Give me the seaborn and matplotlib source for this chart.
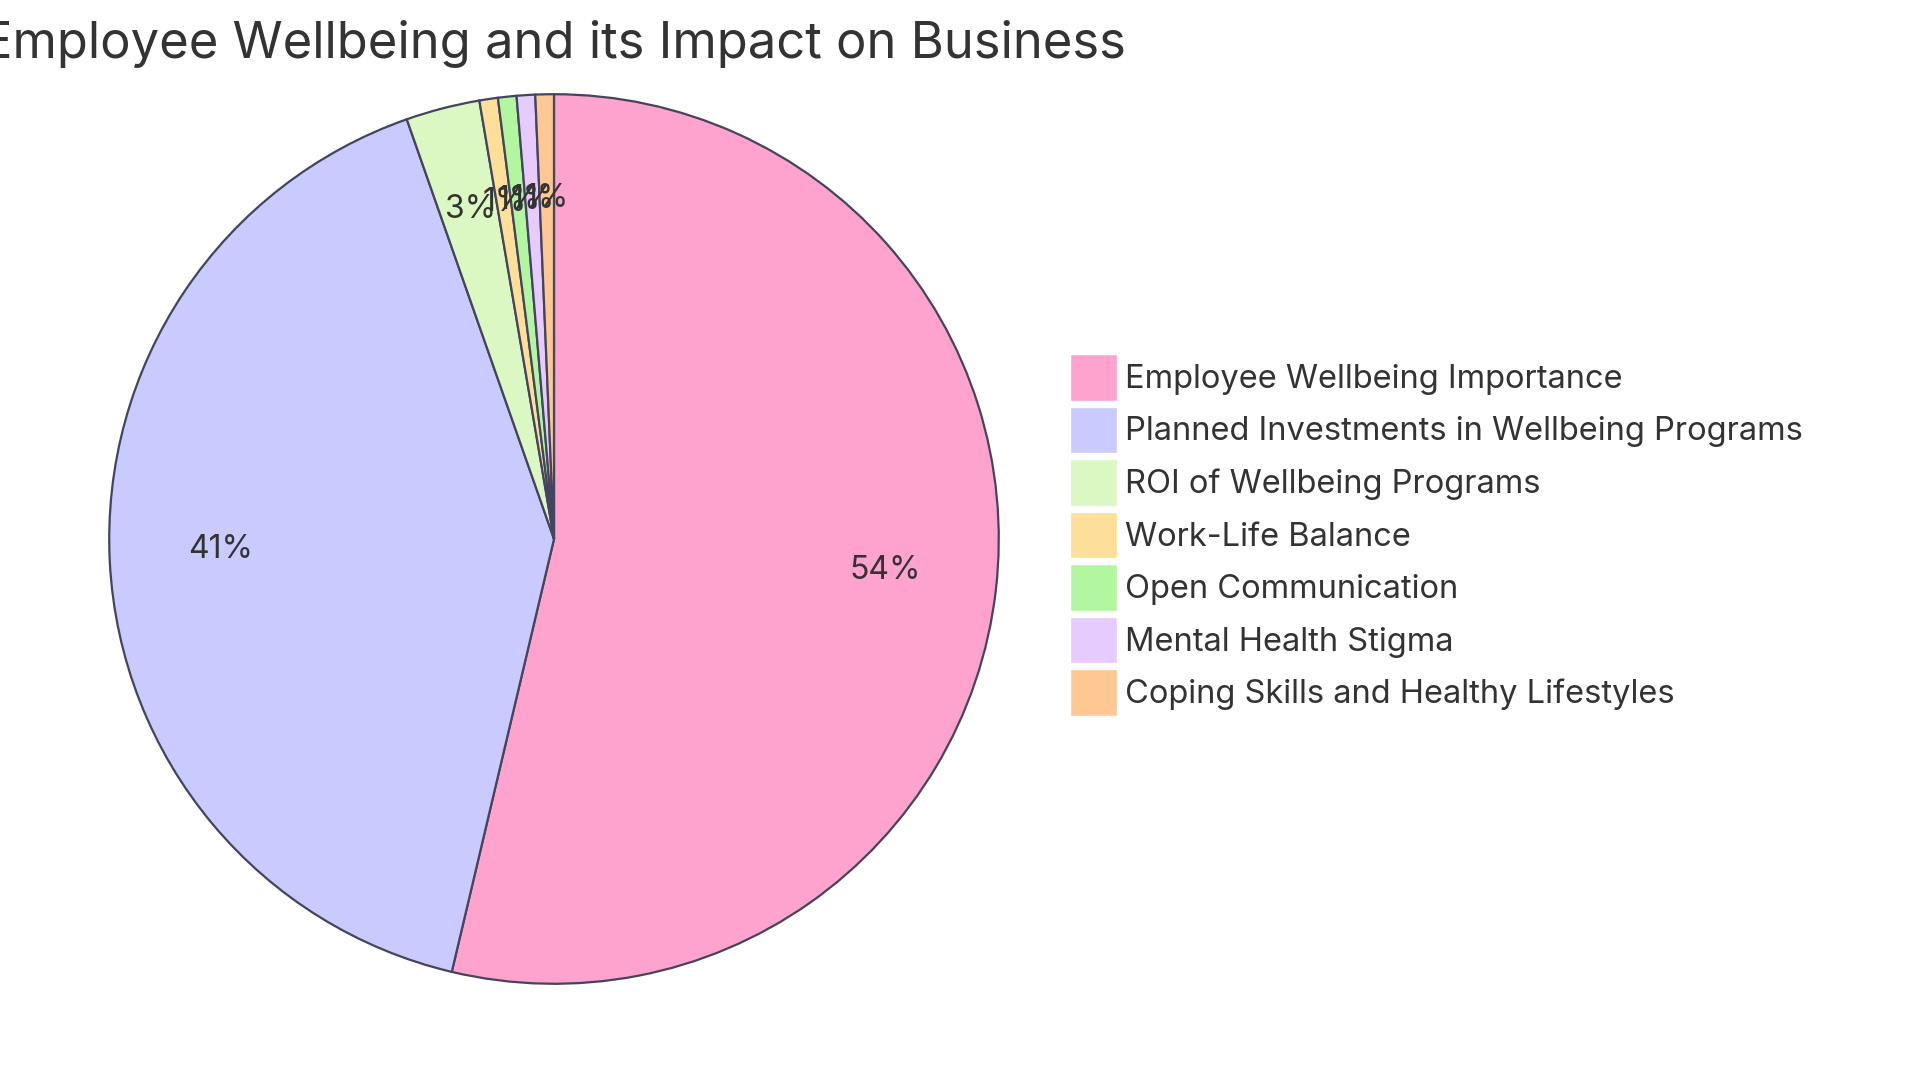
import matplotlib
matplotlib.use("Agg")
import matplotlib.pyplot as plt
import matplotlib.transforms as mtransforms
import seaborn as sns
from matplotlib.patches import Patch

categories = [
    "Employee Wellbeing Importance",
    "Planned Investments in Wellbeing Programs",
    "ROI of Wellbeing Programs",
    "Work-Life Balance",
    "Open Communication",
    "Mental Health Stigma",
    "Coping Skills and Healthy Lifestyles",
]
values = [80, 61, 4, 1, 1, 1, 1]
colors = ["#FEA3CE", "#C9CAFE", "#DCF8C2", "#FEDF99", "#B3F6A0", "#E6CBFE", "#FEC894"]
title = "Employee Wellbeing and its Impact on Business"

sns.set_theme(style="white")
plt.rcParams["font.family"] = ["Inter", "DejaVu Sans"]
palette = sns.color_palette(colors)

W, H = 1920, 1080
fig = plt.figure(figsize=(W / 100, H / 100), dpi=100)
cx, cy, r = 554, 539, 447
ax = fig.add_axes([(cx - r) / W, (H - cy - r) / H, 2 * r / W, 2 * r / H])
edge = "#44445E"
wedges, texts, autotexts = ax.pie(
    values,
    colors=palette,
    startangle=90,
    counterclock=False,
    autopct="%.0f%%",
    pctdistance=0.75,
    radius=1,
    wedgeprops=dict(edgecolor=edge, linewidth=1.6),
    textprops=dict(color="#333333", fontsize=23),
)
shift = mtransforms.offset_copy(ax.transData, fig=fig, x=0, y=7, units="dots")
for t in autotexts:
    t.set_transform(shift)
ax.set_xlim(-1.005, 1.005)
ax.set_ylim(-1.005, 1.005)
ax.axis("off")

fig.text(cx / W, 1 - 44 / H, title, ha="center", va="center", fontsize=36.5, color="#333333")

handles = [Patch(facecolor=c, edgecolor="white", linewidth=1) for c in palette]
leg = fig.legend(
    handles, categories,
    loc="upper left",
    bbox_to_anchor=(1070 / W, 1 - 354 / H),
    frameon=False,
    fontsize=23.5,
    handlelength=1.44,
    handleheight=1.83,
    handletextpad=0.25,
    labelspacing=0.175,
    borderpad=0,
    borderaxespad=0,
)
for t in leg.get_texts():
    t.set_color("#333333")

fig.savefig("out.png", dpi=100, facecolor="white")
